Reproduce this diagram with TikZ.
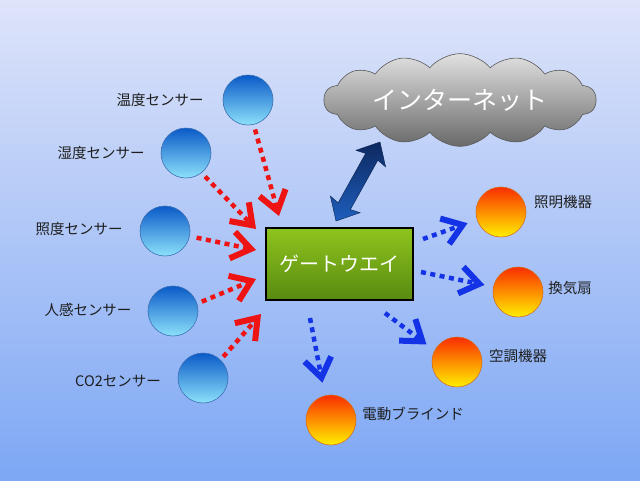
\documentclass[tikz,border=0pt]{standalone}
\usepackage{fontspec}
\newfontfamily\jp{Noto Sans CJK JP}
\usetikzlibrary{arrows.meta,shapes.symbols,calc}
\definecolor{bgTop}{RGB}{222,228,250}
\definecolor{bgBot}{RGB}{125,167,244}
\definecolor{sensTop}{RGB}{10,90,200}
\definecolor{sensBot}{RGB}{140,225,250}
\definecolor{sensEdge}{RGB}{60,110,180}
\definecolor{devTop}{RGB}{250,45,0}
\definecolor{devMid}{RGB}{255,150,10}
\definecolor{devBot}{RGB}{255,240,0}
\definecolor{devEdge}{RGB}{210,110,30}
\definecolor{gwTop}{RGB}{142,196,30}
\definecolor{gwBot}{RGB}{88,138,16}
\definecolor{arrRed}{RGB}{238,20,20}
\definecolor{arrBlue}{RGB}{20,50,230}
\definecolor{netTop}{RGB}{13,40,95}
\definecolor{netBot}{RGB}{30,95,190}
\definecolor{cloudTop}{RGB}{225,225,225}
\definecolor{cloudBot}{RGB}{105,105,105}
\definecolor{lblText}{RGB}{30,30,30}
\begin{document}
\begin{tikzpicture}[x=1pt,y=-1pt,
  sensor/.style={circle, minimum size=50pt, inner sep=0pt, draw=sensEdge, line width=0.6pt, top color=sensTop, bottom color=sensBot},
  device/.style={circle, minimum size=50pt, inner sep=0pt, draw=devEdge, line width=0.6pt, top color=devTop, middle color=devMid, bottom color=devBot},
  lbl/.style={font=\jp\fontsize{14.5}{16}\selectfont, text=lblText, inner sep=0pt},
  dotarr/.style={line width=4.5pt, line cap=butt, dash pattern=on 5pt off 4.5pt, -{Straight Barb[length=19pt,width=27pt,line width=6pt]}},
  redarr/.style={dotarr, draw=arrRed},
  bluearr/.style={dotarr, draw=arrBlue},
  gwbox/.style={draw=black, line width=2pt, top color=gwTop, bottom color=gwBot, minimum width=147pt, minimum height=72pt, inner sep=0pt, font=\jp\fontsize{20}{24}\selectfont, text=white}
]
\useasboundingbox (0,0) rectangle (640,480);
\shade[top color=bgTop, bottom color=bgBot] (0,0) rectangle (640,480);

% cloud
\node[cloud, cloud puffs=14, cloud puff arc=100, aspect=3.6, minimum width=272pt, minimum height=70pt, inner sep=0pt,
  draw=black!65, line width=0.6pt, top color=cloudTop, bottom color=cloudBot,
  font=\jp\fontsize{25}{30}\selectfont, text=white] (net) at (460,100) {インターネット};

% gateway
\node[gwbox] (gw) at (339.5,264) {ゲートウエイ};

% sensors
\node[sensor] (s1) at (248,100) {};
\node[sensor] (s2) at (186,153) {};
\node[sensor] (s3) at (165,231) {};
\node[sensor] (s4) at (173,311) {};
\node[sensor] (s5) at (203,378) {};
\node[lbl] (l1) at (160,100) {温度センサー};
\node[lbl] (l2) at (101,153) {湿度センサー};
\node[lbl] (l3) at (79,229) {照度センサー};
\node[lbl] (l4) at (88,310) {人感センサー};
\node[lbl] (l5) at (118,381) {CO2センサー};

% devices
\node[device] (d1) at (501,212) {};
\node[device] (d2) at (518,292) {};
\node[device] (d3) at (457,362) {};
\node[device] (d4) at (331,420) {};
\node[lbl] (m1) at (563,202) {照明機器};
\node[lbl] (m2) at (570,288) {換気扇};
\node[lbl] (m3) at (518,356) {空調機器};
\node[lbl] (m4) at (413,414) {電動ブラインド};

% red arrows sensors -> gateway
\draw[redarr, shorten <=5pt] (s1.-77) -- ($(gw.north west)+(14,-11)$);
\draw[redarr, shorten <=5pt] (s2.-52) -- ($(gw.north west)+(-9,2)$);
\draw[redarr, shorten <=7pt] (s3.-12) -- ($(gw.north west)+(-9,23)$);
\draw[redarr, shorten <=5pt] (s4.17) -- ($(gw.north west)+(-9,52)$);
\draw[redarr, shorten <=4pt] (s5.46) -- ($(gw.south west)+(-4,13)$);

% blue arrows gateway -> devices
\draw[bluearr, shorten >=10pt] ($(gw.north east)+(9,12)$) -- (d1.198);
\draw[bluearr, shorten >=9pt] ($(gw.north east)+(7,45)$) -- (d2.168);
\draw[bluearr, shorten >=10pt] ($(gw.south east)+(-29,12)$) -- (d3.153);
\draw[bluearr, shorten >=13pt] ($(gw.south west)+(45,17)$) -- (d4.104);

% double arrow gateway <-> internet
\coordinate (arA) at ($(gw.north west)+(71,-6)$);
\coordinate (arB) at ($(net.center)+(-80,42)$);
\shade[top color=netTop, bottom color=netBot, draw=netTop!80!black, line width=0.4pt]
  (arA) -- ($(arA)!19pt!(arB)!17pt!90:(arB)$) -- ($(arA)!17pt!(arB)!7pt!90:(arB)$)
  -- ($(arB)!17pt!(arA)!7pt!-90:(arA)$) -- ($(arB)!19pt!(arA)!17pt!-90:(arA)$)
  -- (arB) -- ($(arB)!19pt!(arA)!17pt!90:(arA)$) -- ($(arB)!17pt!(arA)!7pt!90:(arA)$)
  -- ($(arA)!17pt!(arB)!7pt!-90:(arB)$) -- ($(arA)!19pt!(arB)!17pt!-90:(arB)$) -- cycle;
\end{tikzpicture}
\end{document}
